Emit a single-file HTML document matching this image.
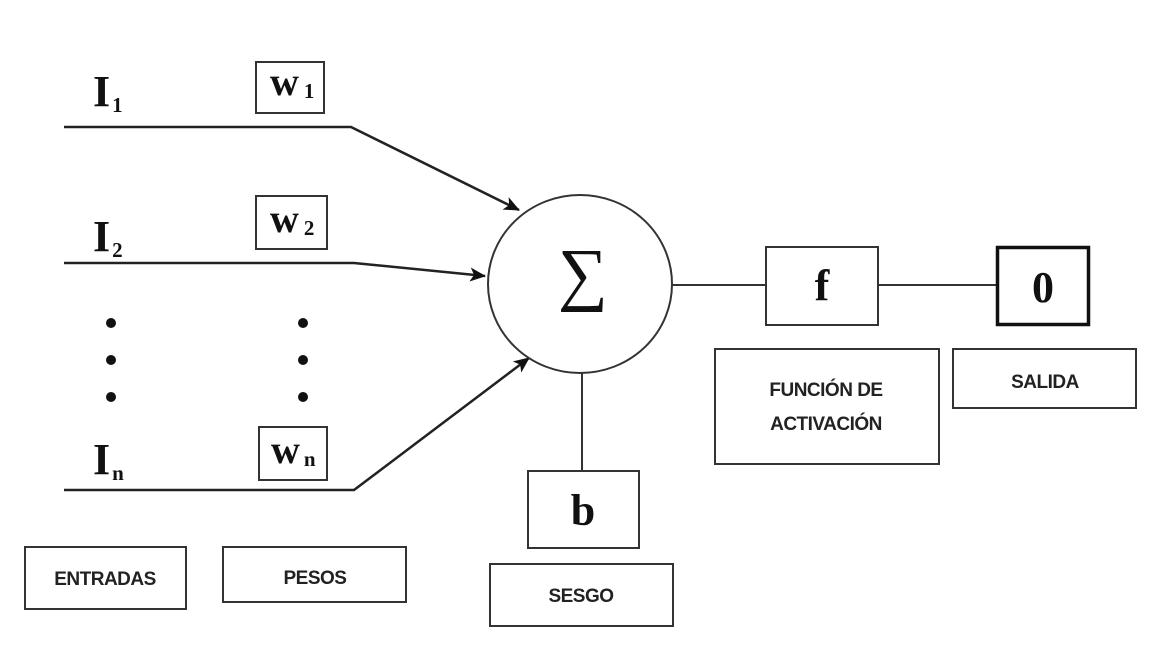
<!DOCTYPE html>
<html><head><meta charset="utf-8"><style>
html,body{margin:0;padding:0;background:#fff;}
svg{display:block;}
.s{font-family:"Liberation Serif",serif;font-weight:bold;fill:#111;}
.l{font-family:"Liberation Sans",sans-serif;font-weight:bold;font-size:19px;fill:#222;letter-spacing:-0.5px;}
</style></head><body>
<svg width="1156" height="660" viewBox="0 0 1156 660" xmlns="http://www.w3.org/2000/svg">
<defs>
<marker id="b" markerWidth="16" markerHeight="14" refX="15" refY="7" orient="auto" markerUnits="userSpaceOnUse" viewBox="0 0 16 14"><path d="M0,0 L16,7 L0,14 L4,7 Z" fill="#111"/></marker></defs>
<g stroke="#222" fill="none" stroke-width="2.5">
<polyline points="64,127 351,127 519,210" marker-end="url(#b)"/>
<polyline points="64,263 354,263 485,276" marker-end="url(#b)"/>
<polyline points="64,490 354,490 529,358" marker-end="url(#b)"/>
</g>
<g stroke="#333" fill="none" stroke-width="2">
<ellipse cx="580" cy="284" rx="92" ry="89"/>
<line x1="672" y1="285" x2="766" y2="285"/>
<line x1="878" y1="285" x2="996" y2="285"/>
<line x1="582" y1="373" x2="582" y2="471"/>
<rect x="256" y="62" width="68" height="51"/>
<rect x="256" y="196" width="71" height="53"/>
<rect x="259" y="427" width="68" height="53"/>
<rect x="766" y="247" width="112" height="78"/>
<rect x="528" y="471" width="111" height="77"/>
<rect x="715" y="349" width="224" height="115"/>
<rect x="953" y="349" width="183" height="59"/>
<rect x="25" y="547" width="161" height="62"/>
<rect x="223" y="547" width="183" height="55"/>
<rect x="490" y="564" width="183" height="62"/>
</g>
<rect x="997.5" y="247.5" width="91" height="77" fill="none" stroke="#111" stroke-width="3.5"/>
<g fill="#111">
<circle cx="111" cy="323" r="5"/><circle cx="111" cy="360" r="5"/><circle cx="111" cy="397" r="5"/>
<circle cx="303" cy="323" r="5"/><circle cx="303" cy="360" r="5"/><circle cx="303" cy="397" r="5"/>
</g>
<text class="s" x="93" y="106" font-size="44">I<tspan font-size="21" dx="2" dy="6">1</tspan></text>
<text class="s" x="93" y="251" font-size="44">I<tspan font-size="21" dx="2" dy="6">2</tspan></text>
<text class="s" x="93" y="474" font-size="44">I<tspan font-size="21" dx="2" dy="6">n</tspan></text>
<text class="s" x="270" y="95" font-size="40">w<tspan font-size="21" dx="5" dy="3">1</tspan></text>
<text class="s" x="270" y="232" font-size="40">w<tspan font-size="21" dx="5" dy="3">2</tspan></text>
<text class="s" x="271" y="463" font-size="40">w<tspan font-size="21" dx="4" dy="3">n</tspan></text>
<text x="583" y="297" font-family="Liberation Serif,serif" font-size="70" text-anchor="middle" fill="#111">∑</text>
<text class="s" x="822" y="300" font-size="44" text-anchor="middle">f</text>
<text class="s" x="1043" y="302" font-size="44" text-anchor="middle">0</text>
<text class="s" x="583" y="525" font-size="44" text-anchor="middle">b</text>
<text class="l" x="826" y="396" text-anchor="middle">FUNCIÓN DE</text>
<text class="l" x="826" y="430" text-anchor="middle">ACTIVACIÓN</text>
<text class="l" x="1045" y="388" text-anchor="middle">SALIDA</text>
<text class="l" x="105" y="585" text-anchor="middle">ENTRADAS</text>
<text class="l" x="315" y="584" text-anchor="middle">PESOS</text>
<text class="l" x="581" y="602" text-anchor="middle">SESGO</text>
</svg>
</body></html>
